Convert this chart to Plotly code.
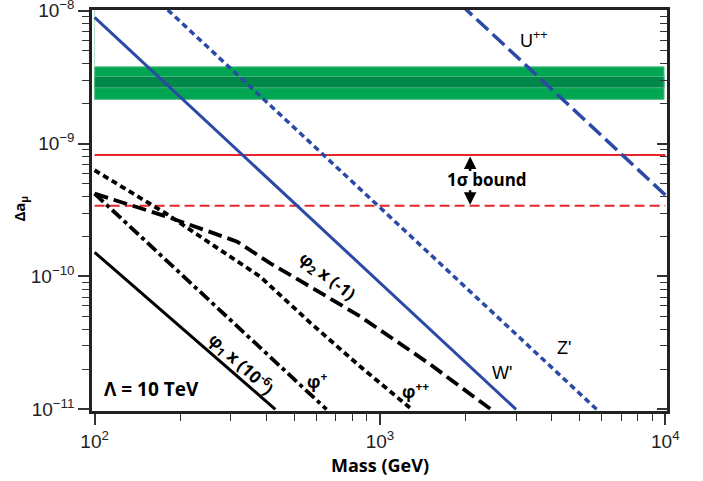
import numpy as np
import plotly.graph_objects as go

# ---------------- data ----------------
mass_w = [100, 3000]
w_prime = [8.9e-9, 1.0e-11]

mass_z = [100, 5750]
z_prime = [3.3e-8, 1.0e-11]

mass_u = [1000, 12000]
u_pp = [4.1e-8, 2.85e-10]

mass_phi1 = [100, 430]
phi1 = [1.52e-10, 1.0e-11]

mass_phip = [100, 650]
phi_plus = [4.2e-10, 1.0e-11]

mass_phipp = [100, 177, 254, 380, 569, 853, 1294]
phi_pp = [6.3e-10, 3.0e-10, 1.78e-10, 1.0e-10, 4.5e-11, 2.1e-11, 1.0e-11]

mass_phi2 = [100, 181, 316, 412, 569, 853, 1479, 2450]
phi2 = [4.2e-10, 2.8e-10, 1.83e-10, 1.26e-10, 8.4e-11, 5.0e-11, 2.23e-11, 1.0e-11]

bound_mass = [100, 10000]
bound_now = 8.2e-10
bound_future = 3.4e-10

band_mass = [100, 9900]
band_outer = [2.15e-9, 3.78e-9]
band_inner = [2.63e-9, 3.2e-9]

x_tickvals = [100, 1000, 10000]
x_ticktext = ["10<sup>2</sup>", "10<sup>3</sup>", "10<sup>4</sup>"]
y_tickvals = [1e-11, 1e-10, 1e-9, 1e-8]
y_ticktext = ["10<sup>−11</sup>", "10<sup>−10</sup>", "10<sup>−9</sup>", "10<sup>−8</sup>"]

# ---------------- styles ----------------
BLUE = "#2B4AA6"
RED = "#E8262A"
GREEN = "#00A651"
GREEN_D = "#00884A"
BOLD = "Open Sans"
PLAIN = "Liberation Sans, Arial"

fig = go.Figure()

def band(lo, hi, fill, edge):
    x0, x1 = band_mass
    fig.add_trace(go.Scatter(x=[x0, x1, x1, x0, x0], y=[lo, lo, hi, hi, lo],
                             mode="lines", fill="toself", fillcolor=fill,
                             line=dict(color=edge, width=1),
                             hoverinfo="skip", showlegend=False))

band(band_outer[0], band_outer[1], GREEN, "#5CC08A")
band(band_inner[0], band_inner[1], GREEN_D, "#4DB57D")
# thin light-green edge at the left of the band
fig.add_trace(go.Scatter(x=[band_mass[0], band_mass[0]], y=[band_outer[1], 1e-8],
                         mode="lines", line=dict(color="#A8E0C0", width=1),
                         hoverinfo="skip", showlegend=False))

def line(x, y, color, width, dash="solid"):
    fig.add_trace(go.Scatter(x=x, y=y, mode="lines",
                             line=dict(color=color, width=width, dash=dash),
                             hoverinfo="skip", showlegend=False))

line(bound_mass, [bound_now, bound_now], RED, 2)
line(bound_mass, [bound_future, bound_future], RED, 2, "10px,5px")

line(mass_w, w_prime, BLUE, 3)
line(mass_z, z_prime, BLUE, 3.5, "6px,4px")
line(mass_u, u_pp, BLUE, 3.5, "16px,6px")

line(mass_phi1, phi1, "black", 3)
line(mass_phip, phi_plus, "black", 3.8, "12px,4px,4px,4px")
line(mass_phipp, phi_pp, "black", 3.8, "6px,4px")
line(mass_phi2, phi2, "black", 3.8, "14px,6px")

# invisible trace for the mirrored right axis (inside ticks)
fig.add_trace(go.Scatter(x=[100], y=[1e-9], yaxis="y2", mode="markers",
                         marker=dict(opacity=0), hoverinfo="skip", showlegend=False))

XR = [1.9909, 4.006]
YR = [-11.012, -7.995]

fig.update_layout(
    width=703, height=481,
    margin=dict(l=92, r=36, t=10, b=70),
    paper_bgcolor="white", plot_bgcolor="white",
    showlegend=False,
    xaxis=dict(type="log", range=XR, tickmode="array", tickvals=x_tickvals,
               ticktext=x_ticktext, automargin=False, ticklabeloverflow="allow",
               ticks="outside", ticklen=11, tickwidth=1.5, tickcolor="#333",
               showline=True, linecolor="#222", linewidth=2.5, mirror=True,
               showgrid=False, zeroline=False,
               tickfont=dict(family=PLAIN, size=19, color="#222"),
               minor=dict(ticks="outside", ticklen=7, tickwidth=1.2, tickcolor="#333",
                          dtick="D1", showgrid=False)),
    yaxis=dict(type="log", range=YR, tickmode="array", tickvals=y_tickvals,
               ticktext=y_ticktext, automargin=False, ticklabeloverflow="allow",
               ticks="outside", ticklen=11, tickwidth=1.5, tickcolor="#333",
               showline=True, linecolor="#222", linewidth=2.5, mirror=True,
               showgrid=False, zeroline=False,
               tickfont=dict(family=PLAIN, size=19, color="#222"),
               minor=dict(ticks="outside", ticklen=7, tickwidth=1.2, tickcolor="#333",
                          dtick="D1", showgrid=False)),
    yaxis2=dict(type="log", range=YR, overlaying="y", side="right", automargin=False,
                tickmode="array", tickvals=y_tickvals, ticks="inside", ticklen=10,
                tickwidth=1.5, tickcolor="#333", showticklabels=False, showline=False,
                showgrid=False, zeroline=False,
                minor=dict(ticks="inside", ticklen=7, tickwidth=1.2, tickcolor="#333",
                           dtick="D1", showgrid=False)),
)

L = np.log10

def label(x, y, text, size=17, family=BOLD, angle=0, color="black"):
    fig.add_annotation(x=L(x), y=L(y), xref="x", yref="y", text=text,
                       showarrow=False, textangle=angle,
                       xanchor="center", yanchor="middle",
                       font=dict(family=family, size=size, color=color))

label(3470, 6.1e-9, "U<sup>++</sup>", size=18, family=PLAIN)
label(2680, 1.89e-11, "W'", size=18, family=PLAIN)
label(4420, 2.91e-11, "Z'", size=18, family=PLAIN)
label(158, 1.43e-11, "<b>Λ = 10 TeV</b>", size=19)
label(2370, 5.33e-10, "<b>1σ bound</b>", size=17)
label(653, 9.93e-11, "<b>φ<sub>2</sub> x (-1)</b>", size=17, angle=38)
label(327, 2.2e-11, "<b>φ<sub>1</sub> x (10<sup>-6</sup>)</b>", size=17, angle=43)
label(603, 1.64e-11, "<b>φ<sup>+</sup></b>", size=17)
label(1327, 1.38e-11, "<b>φ<sup>++</sup></b>", size=17)

# arrows for the 1-sigma bound
arr_x = 2070
fig.add_annotation(x=L(arr_x), y=L(7.98e-10), xref="x", yref="y", text="",
                   showarrow=True, ax=0, ay=16, arrowhead=2, arrowsize=1,
                   arrowwidth=2.5, arrowcolor="black", standoff=0)
fig.add_annotation(x=L(arr_x), y=L(3.46e-10), xref="x", yref="y", text="",
                   showarrow=True, ax=0, ay=-16, arrowhead=2, arrowsize=1,
                   arrowwidth=2.5, arrowcolor="black", standoff=0)

# axis titles (paper coords: plot area spans page y 10..411, x 92..667)
fig.add_annotation(x=0.501, y=-0.135, xref="paper", yref="paper",
                   xanchor="center", yanchor="middle",
                   text="<b>Mass (GeV)</b>", showarrow=False,
                   font=dict(family=BOLD, size=18, color="black"))
fig.add_annotation(x=-0.125, y=0.505, xref="paper", yref="paper",
                   xanchor="center", yanchor="middle",
                   text="<b>Δa<sub>μ</sub></b>", showarrow=False, textangle=-90,
                   font=dict(family=BOLD, size=15, color="black"))

fig.write_html("out.html",
               config={"displayModeBar": False},
               post_script="document.body.style.margin='0px';")
